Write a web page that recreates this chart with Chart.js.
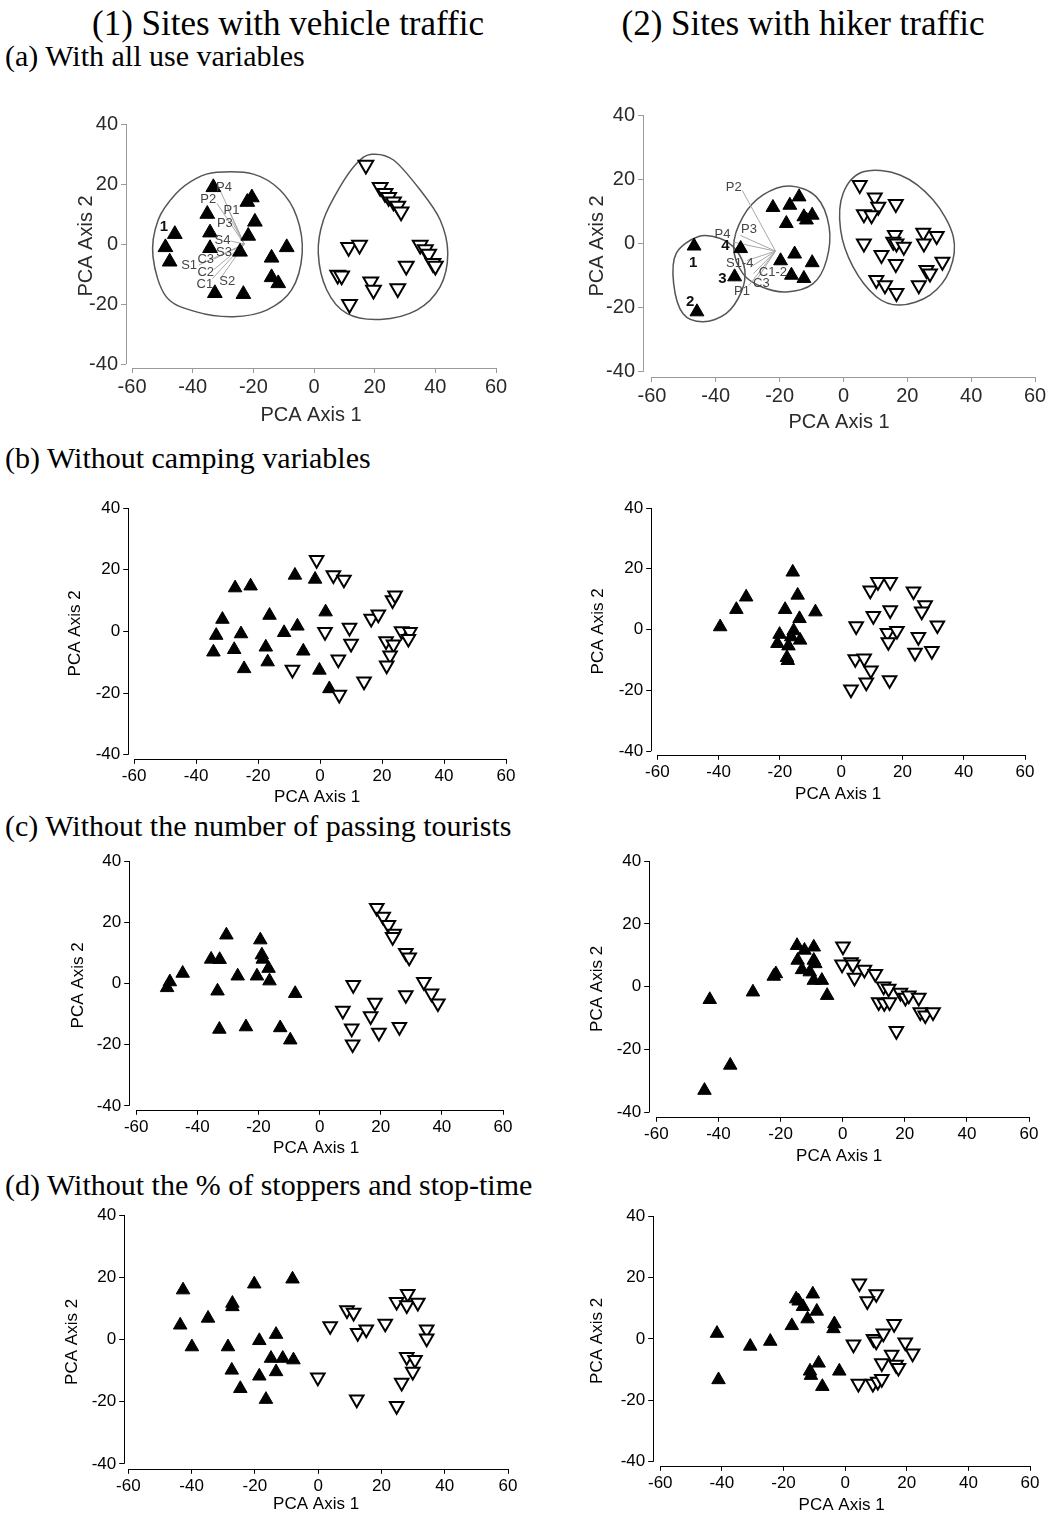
<!DOCTYPE html>
<html>
<head>
<meta charset="utf-8">
<script src="https://cdn.jsdelivr.net/npm/chart.js@4.4.0/dist/chart.umd.min.js"></script>
<style>
  body { margin: 0; background: #fff; }
  #page { position: relative; width: 1051px; height: 1519px; overflow: hidden; background: #fff; }
  .txt { position: absolute; font-family: "Liberation Serif", "Times New Roman", serif; color: #000; white-space: nowrap; line-height: 1; }
  .head { font-size: 35px; transform: translateX(-50%); }
  .sec { font-size: 30px; left: 5px; }
  canvas { position: absolute; }
</style>
</head>
<body>
<div id="page">
  <div class="txt head" style="left:288px; top:6px;">(1) Sites with vehicle traffic</div>
  <div class="txt head" style="left:803px; top:6px;">(2) Sites with hiker traffic</div>
  <div class="txt sec" style="top:41px;">(a) With all use variables</div>
  <div class="txt sec" style="top:443px;">(b) Without camping variables</div>
  <div class="txt sec" style="top:811px;">(c) Without the number of passing tourists</div>
  <div class="txt sec" style="top:1170px;">(d) Without the % of stoppers and stop-time</div>
</div>
<script>
// axis ticks shared by every panel
const tickX = [-60, -40, -20, 0, 20, 40, 60];
const tickY = [-40, -20, 0, 20, 40];

// (a) all use variables - vehicle sites
const vehAllFilled = [[-33.2,18.9],[-22,14],[-20.5,15.5],[-35.2,10],[-19.5,7.4],[-45.9,3.3],[-34.3,3.8],[-21.7,2.7],[-49,-1.1],[-34.3,-1.4],[-9,-1.1],[-24.4,-2.6],[-47.6,-5.9],[-14,-4.6],[-14,-11.1],[-11.8,-13.1],[-32.7,-16.4],[-23.3,-16.7]];
const vehAllOpen = [[17.1,26.3],[21.8,18.9],[23.4,16.9],[24.6,15.6],[26.2,14.1],[27.6,12.7],[28.7,10.8],[11.4,-1.1],[15,-0.3],[35,-0.3],[36.7,-1.8],[37.8,-3.3],[39.2,-6.4],[40,-7.3],[30.4,-7.3],[7.8,-10.3],[9.1,-10.6],[18.7,-12.6],[19.6,-15.3],[27.6,-14.8],[11.7,-20.1]];
const vehAllHullFilled = [[-32.1,23.9],[-20,23.3],[-11.2,18],[-5.7,9.1],[-3.9,-3.1],[-7.4,-15.3],[-15.6,-22],[-26.6,-24.2],[-38.8,-22.6],[-48.7,-17.6],[-53.1,-4.2],[-51.4,8],[-45.4,16.9],[-38.8,21.9]];
const vehAllHullOpen = [[19,29.9],[26.2,28],[35,18],[41.6,8],[44.1,-3.1],[41.6,-14.2],[33.9,-22],[21.8,-25.1],[10.8,-23.1],[4.2,-15.3],[1.4,-3.1],[3.1,8],[8.6,19.1],[14.1,26.9]];
const vehAllOrigin = [-23, 0];
const vehAllTips = [[-31,18],[-32,13.5],[-28.5,12],[-27,7.5],[-27.5,1],[-26.5,-2],[-33,-5],[-38,-7],[-33,-8.5],[-33.5,-11.5],[-30.5,-11]];
const vehAllVarLabels = [['P4',-29.7,18.9],['P2',-34.9,14.9],['P1',-27.2,11.3],['P3',-29.4,6.9],['S4',-30.2,1.3],['S3',-29.7,-2.9],['C3',-35.7,-5.1],['S1',-41.2,-7],['C2',-35.7,-9.6],['C1',-36,-13.3],['S2',-28.6,-12.6]];
const vehAllSiteLabels = [['1',-49.5,5.8]];

// (a) all use variables - hiker sites
const hikAllFilled = [[-46.8,-0.8],[-45.9,-21.3],[-34.1,-10.4],[-32.2,-1.6],[-22.1,11.2],[-16.8,11.9],[-13.9,14.5],[-17.9,6.2],[-12.4,8.3],[-11.6,7.3],[-9.8,8.8],[-19.7,-5.4],[-15.3,-3.3],[-9.8,-6],[-16.3,-9.9],[-12.4,-10.9]];
const hikAllOpen = [[5.1,18.2],[9.8,14.3],[10.9,11.4],[6.4,9.1],[8.8,8.8],[16.4,12.3],[6.4,0],[11.9,-3.6],[16.1,2.6],[15.6,0.5],[16.6,0],[18.9,-1],[16.4,-6.4],[25,3.3],[25.2,0],[29.2,2.3],[31,-5.7],[26,-8.3],[27.1,-9.4],[10.3,-11.4],[13,-13],[16.6,-15.4],[23.6,-13]];
const hikAllHullSmall = [[-45.6,2.1],[-38.8,1.6],[-33.6,-2.1],[-30.9,-8.3],[-32,-15.1],[-36.7,-21.8],[-44,-24.4],[-50.3,-21.8],[-53.2,-12.5],[-52.4,-3.1]];
const hikAllHullFilled = [[-16.8,17.9],[-8.5,14.5],[-4.5,5.2],[-5.3,-5.2],[-9.5,-12.5],[-17.9,-15.1],[-25.7,-13.5],[-31.5,-9.4],[-34.4,-1],[-31.5,8.3],[-25.2,15.1]];
const hikAllHullOpen = [[6.2,22.3],[17.7,21.3],[28.1,13.5],[34.4,2.1],[33.3,-8.3],[27.1,-16.1],[17.7,-19.2],[10.3,-16.6],[3,-7.3],[-0.9,4.2],[-0.1,15.6]];
const hikAllOrigin = [-21.3, -2.4];
const hikAllTips = [[-31.7,16.5],[-32.3,2.5],[-34.4,0.4],[-30.2,-5.3],[-29.2,-7.4],[-28.2,-9.4],[-27,-11],[-29.6,-13.1]];
const hikAllVarLabels = [['P2',-34.4,17.5],['P3',-29.6,4.4],['P4',-37.9,2.9],['S1-4',-32.5,-6.2],['C1-2',-22.1,-9],['C3',-25.7,-12.5],['P1',-31.8,-15.1]];
const hikAllSiteLabels = [['1',-47.1,-6.2],['2',-48,-18.2],['3',-37.9,-10.9],['4',-37,-0.8]];

// (b) without camping variables
const vehNoCampFilled = [[-34.4,-6.7],[-33.5,-1.3],[-31.5,3.9],[-27.7,-5.9],[-27.4,14.1],[-25.5,-0.8],[-24.5,-12.1],[-22.4,14.7],[-17.5,-5.1],[-16.9,-9.9],[-16.3,5.2],[-11.6,-0.4],[-8.1,18.2],[-7.3,1.7],[-5.4,-6.4],[-1.6,16.9],[-0.2,-12.6],[1.8,6.3],[3,-18.6]];
const vehNoCampOpen = [[-1.1,23.2],[-8.9,-12.4],[1.6,-0.2],[4.3,18.2],[7.7,16.8],[5.9,-9.1],[6.2,-20.5],[9.5,1.2],[10,-4],[14.2,-16.2],[16.5,4.1],[18.8,5.5],[21.3,-3.2],[23.7,-4.2],[22.6,-7.8],[21.5,-11],[23.4,10.1],[24.2,11.7],[26.3,0.1],[29,-0.2],[28.5,-2.4]];
const hikNoCampFilled = [[-39.5,0.9],[-34.2,6.6],[-31,10.7],[-15.8,18.9],[-14.2,11.3],[-18.3,6.6],[-13.6,3.6],[-8.4,5.8],[-20.1,-1.6],[-15.5,-0.4],[-16.3,-2.4],[-20.8,-4.6],[-17.2,-5.4],[-13.4,-3.5],[-17.7,-9.2],[-17.4,-10.2]];
const hikNoCampOpen = [[4.9,1.1],[9.5,12.9],[12,15.7],[16,15.7],[10.5,4.5],[16,6.4],[23.6,12.6],[27.4,8],[26.3,6],[31.4,1.4],[15.1,-1.1],[18.2,-0.4],[15.4,-4.1],[25.2,-2.4],[24.1,-7.6],[29.6,-7],[4.6,-9.7],[7.5,-9.5],[9.7,-13.4],[8.2,-17.4],[3.2,-19.7],[15.8,-16.6]];

// (c) without the number of passing tourists
const vehNoPassFilled = [[-49.9,-1.4],[-49,0.5],[-44.8,3.3],[-35.5,7.9],[-32.7,7.8],[-30.5,15.8],[-33.4,-2.5],[-32.8,-15],[-26.8,2.4],[-24.1,-14.2],[-20.5,2.4],[-19.4,14.2],[-18.9,9.3],[-18.6,7.9],[-16.7,4.9],[-16.4,0.8],[-12.9,-14.5],[-9.6,-18.5],[-8,-3.3]];
const vehNoPassOpen = [[18.7,24.7],[20.8,21.8],[22.5,19.1],[24.4,16.3],[23.9,15.2],[28.2,10],[29.3,8.5],[34.1,0.5],[36.6,-3.3],[38.7,-6.5],[28.2,-3.8],[11,-0.5],[18.1,-6.3],[7.6,-8.9],[16.7,-10.7],[10.5,-14.7],[19.4,-16.1],[26.1,-14.2],[10.8,-19.9]];
const hikNoPassFilled = [[-42.8,-4.1],[-36.2,-25],[-44.5,-33],[-28.9,-1.7],[-22.2,3.3],[-21.5,4.1],[-14.7,13.1],[-12.3,11.6],[-9.3,12.6],[-14.5,8.4],[-9.3,8.4],[-8.8,7.3],[-13.1,5.4],[-10.6,4.7],[-9.3,2],[-6.7,2],[-5,-2.8]];
const hikNoPassOpen = [[0.1,12.8],[-0.2,7.1],[2.7,7.8],[3.3,7.1],[3.8,2.9],[7,5.4],[10.5,4.1],[11.6,-4.9],[13.4,-5.2],[15.1,-4.9],[13.2,0.1],[14.8,-0.6],[18.6,-1.9],[20.2,-3.5],[21.3,-2.8],[24.5,-3.5],[25,-8.1],[26.6,-9.1],[29.1,-8.1],[17.3,-14.1]];

// (d) without the % of stoppers and stop-time
const vehNoStopFilled = [[-42.7,15.9],[-43.6,4.6],[-39.9,-2.4],[-34.8,6.8],[-27.1,11.6],[-27.1,10.5],[-28.5,-2.4],[-27.3,-9.9],[-24.6,-15.8],[-20.2,17.8],[-18.6,-0.4],[-18.6,-11.8],[-16.5,-19.3],[-14.9,-6.1],[-13.3,1.6],[-13.3,-10.4],[-11.2,-6.1],[-7.8,-6.6],[-8.1,19.4]];
const vehNoStopOpen = [[-0.1,-12.2],[3.8,4.3],[9.1,9.4],[11.2,8.6],[12.5,2.1],[15.2,3.2],[12.2,-19.3],[21.2,5.1],[24.8,12.1],[28.3,14.6],[28,11],[31.5,11.8],[34.3,3.2],[34.3,0.3],[28,-5.6],[30.6,-6.6],[29.9,-10.4],[26.4,-13.9],[24.8,-21.4]];
const hikNoStopFilled = [[-41.6,1.8],[-41.1,-13.3],[-30.8,-2.4],[-24.3,-0.8],[-17.3,4.3],[-15.9,13],[-15.1,12.3],[-13.7,10.5],[-12.2,6.5],[-10.5,14.6],[-9.2,9],[-3.5,4.9],[-3.8,3.3],[-11.4,-10.5],[-11.1,-11.9],[-8.6,-7.9],[-7.4,-15.5],[-1.9,-10.5]];
const hikNoStopOpen = [[4.6,18.1],[10.1,14.6],[7.2,12.3],[2.7,-1.8],[9.2,0],[10.1,-0.8],[12.4,1.8],[15.9,4.9],[19.5,-1.1],[21.9,-4.7],[15.1,-5.1],[11.9,-7.9],[16.5,-8.4],[17.3,-9.4],[4.3,-14.6],[9,-14.6],[10.6,-13.9],[11.9,-13]];

const SANS = '"Liberation Sans", Arial, sans-serif';

// plot frames on the page: area = chart area edges in px
const panels = [
  { area: { l: 126, r: 496, t: 124, b: 368 }, xMin: -62, yMin: -41.3, fs: 20, yTitleX: 86, xTitleY: 415, light: true, r: 8.5,
    filled: vehAllFilled, open: vehAllOpen, hulls: [vehAllHullFilled, vehAllHullOpen],
    origin: vehAllOrigin, tips: vehAllTips, varLabels: vehAllVarLabels, siteLabels: vehAllSiteLabels },
  { area: { l: 643, r: 1035, t: 115, b: 377 }, xMin: -62.8, yMin: -41.6, fs: 20, yTitleX: 597, xTitleY: 422, light: true, r: 8,
    filled: hikAllFilled, open: hikAllOpen, hulls: [hikAllHullSmall, hikAllHullFilled, hikAllHullOpen],
    origin: hikAllOrigin, tips: hikAllTips, varLabels: hikAllVarLabels, siteLabels: hikAllSiteLabels },
  { area: { l: 128, r: 506, t: 508, b: 759 }, xMin: -61.9, yMin: -41.3, fs: 17, yTitleX: 75, xTitleY: 798, r: 7.8,
    filled: vehNoCampFilled, open: vehNoCampOpen },
  { area: { l: 651, r: 1025, t: 508, b: 755 }, xMin: -62, yMin: -41.2, fs: 17, yTitleX: 598, xTitleY: 795, r: 7.8,
    filled: hikNoCampFilled, open: hikNoCampOpen },
  { area: { l: 129, r: 503, t: 861, b: 1110 }, xMin: -62.3, yMin: -41.3, fs: 17, yTitleX: 78, xTitleY: 1149, r: 7.8,
    filled: vehNoPassFilled, open: vehNoPassOpen },
  { area: { l: 649, r: 1029, t: 861, b: 1117 }, xMin: -62.3, yMin: -41.4, fs: 17, yTitleX: 597, xTitleY: 1157, r: 7.8,
    filled: hikNoPassFilled, open: hikNoPassOpen },
  { area: { l: 124, r: 508, t: 1215, b: 1469 }, xMin: -61.3, yMin: -41.6, fs: 17, yTitleX: 72, xTitleY: 1505, r: 7.8,
    filled: vehNoStopFilled, open: vehNoStopOpen },
  { area: { l: 653, r: 1030, t: 1216, b: 1466 }, xMin: -62.3, yMin: -41.3, fs: 17, yTitleX: 597, xTitleY: 1506, r: 7.8,
    filled: hikNoStopFilled, open: hikNoStopOpen }
];

// smooth closed outline through the given pixel points
function closedCurve(ctx, pts) {
  const n = pts.length;
  ctx.beginPath();
  ctx.moveTo(pts[0][0], pts[0][1]);
  for (let i = 0; i < n; i++) {
    const p0 = pts[(i - 1 + n) % n], p1 = pts[i], p2 = pts[(i + 1) % n], p3 = pts[(i + 2) % n];
    ctx.bezierCurveTo(
      p1[0] + (p2[0] - p0[0]) / 6, p1[1] + (p2[1] - p0[1]) / 6,
      p2[0] - (p3[0] - p1[0]) / 6, p2[1] - (p3[1] - p1[1]) / 6,
      p2[0], p2[1]);
  }
  ctx.closePath();
  ctx.stroke();
}

const decor = {
  id: 'decor',
  beforeDatasetsDraw(chart, args, opts) {
    const p = opts.panel;
    const { ctx } = chart;
    const xs = chart.scales.x, ys = chart.scales.y;
    const px = v => xs.getPixelForValue(v);
    const py = v => ys.getPixelForValue(v);
    ctx.save();
    // axis lines
    ctx.strokeStyle = p.light ? '#9a9a9a' : '#000';
    ctx.lineWidth = 1;
    const ax = Math.round(chart.chartArea.left) + 0.5;
    const ay = Math.round(chart.chartArea.bottom) + 0.5;
    ctx.beginPath();
    ctx.moveTo(ax, py(40)); ctx.lineTo(ax, py(-40));
    ctx.moveTo(px(-60), ay); ctx.lineTo(px(60), ay);
    ctx.stroke();
    // group outlines
    if (p.hulls) {
      ctx.strokeStyle = '#555';
      ctx.lineWidth = 1.5;
      p.hulls.forEach(h => closedCurve(ctx, h.map(([x, y]) => [px(x), py(y)])));
    }
    // variable vectors
    if (p.tips) {
      ctx.strokeStyle = '#a8a8a8';
      ctx.lineWidth = 1;
      ctx.beginPath();
      p.tips.forEach(([x, y]) => {
        ctx.moveTo(px(p.origin[0]), py(p.origin[1]));
        ctx.lineTo(px(x), py(y));
      });
      ctx.stroke();
    }
    ctx.restore();
  },
  afterDatasetsDraw(chart, args, opts) {
    const p = opts.panel;
    if (!p.varLabels) return;
    const { ctx } = chart;
    const xs = chart.scales.x, ys = chart.scales.y;
    ctx.save();
    ctx.textAlign = 'center';
    ctx.textBaseline = 'middle';
    ctx.fillStyle = '#444';
    ctx.font = '13px ' + SANS;
    p.varLabels.forEach(([t, x, y]) => ctx.fillText(t, xs.getPixelForValue(x), ys.getPixelForValue(y)));
    ctx.fillStyle = '#111';
    ctx.font = 'bold 15px ' + SANS;
    p.siteLabels.forEach(([t, x, y]) => ctx.fillText(t, xs.getPixelForValue(x), ys.getPixelForValue(y)));
    ctx.restore();
  }
};

const page = document.getElementById('page');

panels.forEach(p => {
  const lh = p.fs * 1.2;
  const W = p.area.l - (p.yTitleX - lh / 2);
  const H = p.xTitleY - p.area.b + lh / 2;
  const pad = { left: 6, top: 16, right: 24, bottom: 4 };
  const left = p.area.l - W - pad.left;
  const top = p.area.t - pad.top;
  const width = Math.round(p.area.r + pad.right - left);
  const height = Math.round(p.area.b + H + pad.bottom - top);

  const canvas = document.createElement('canvas');
  canvas.width = width;
  canvas.height = height;
  canvas.style.left = left + 'px';
  canvas.style.top = top + 'px';
  canvas.style.width = width + 'px';
  canvas.style.height = height + 'px';
  page.appendChild(canvas);

  const axisColor = p.light ? '#9a9a9a' : '#000';
  const labelColor = p.light ? '#2a2a2a' : '#000';
  const font = { family: SANS, size: p.fs };

  new Chart(canvas, {
    type: 'scatter',
    data: {
      datasets: [
        {
          data: p.open.map(([x, y]) => ({ x, y })),
          pointStyle: 'triangle', pointRotation: 180, pointRadius: p.r,
          pointBackgroundColor: '#fff', pointBorderColor: '#000', pointBorderWidth: 2,
          clip: false
        },
        {
          data: p.filled.map(([x, y]) => ({ x, y })),
          pointStyle: 'triangle', pointRadius: p.r,
          pointBackgroundColor: '#000', pointBorderColor: '#000', pointBorderWidth: 1,
          clip: false
        }
      ]
    },
    options: {
      responsive: false,
      animation: false,
      events: [],
      devicePixelRatio: 1,
      layout: { padding: pad },
      plugins: { legend: { display: false }, tooltip: { enabled: false }, decor: { panel: p } },
      scales: {
        x: {
          type: 'linear', min: p.xMin, max: 60,
          afterBuildTicks: s => { s.ticks = tickX.map(v => ({ value: v })); },
          afterFit: s => { s.height = H; },
          grid: { display: true, drawOnChartArea: false, drawTicks: true, tickLength: 5, color: axisColor, lineWidth: 1 },
          border: { display: false },
          ticks: { autoSkip: false, maxRotation: 0, minRotation: 0, padding: 2, color: labelColor, font },
          title: { display: true, text: 'PCA Axis 1', color: labelColor, font, padding: 0 }
        },
        y: {
          type: 'linear', min: p.yMin, max: 40,
          afterBuildTicks: s => { s.ticks = tickY.map(v => ({ value: v })); },
          afterFit: s => { s.width = W; },
          grid: { display: true, drawOnChartArea: false, drawTicks: true, tickLength: 5, color: axisColor, lineWidth: 1 },
          border: { display: false },
          ticks: { autoSkip: false, padding: 3, color: labelColor, font },
          title: { display: true, text: 'PCA Axis 2', color: labelColor, font, padding: 0 }
        }
      }
    },
    plugins: [decor]
  });
});
</script>
</body>
</html>
